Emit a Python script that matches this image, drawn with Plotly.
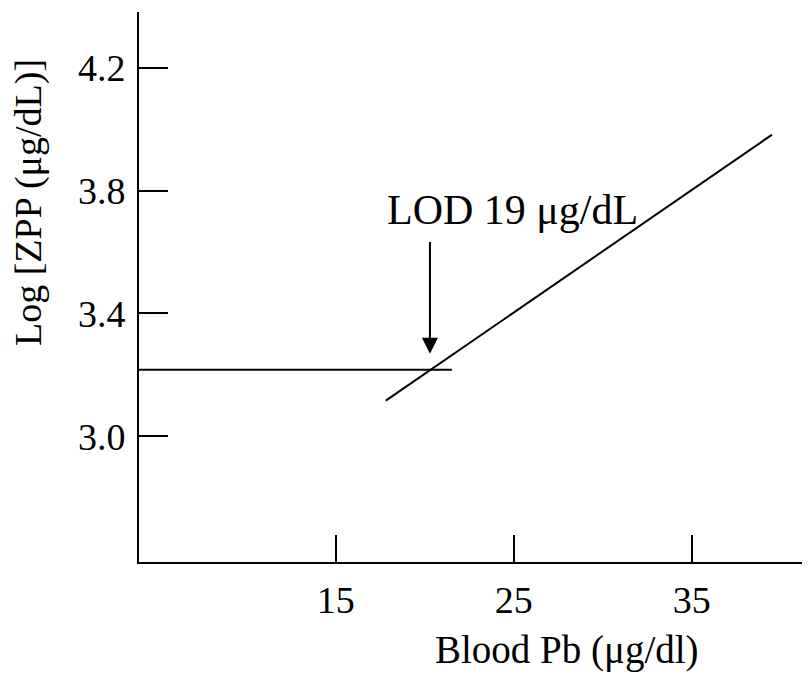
import plotly.graph_objects as go

# Data
flat_x = [3.94, 21.52]
flat_y = [3.217, 3.217]
slope_x = [17.81, 39.52]
slope_y = [3.116, 3.982]

lod_label = "LOD 19 \u03bcg/dL"
lod_arrow_x = 20.29
lod_arrow_tip_y = 3.269
lod_arrow_tail_y = 3.637
lod_text_x = 24.95
lod_text_y = 3.735

x_ticks = [15, 25, 35]
y_ticks = [3.0, 3.4, 3.8, 4.2]
x_range = [3.94, 41.65]
y_range = [2.591, 4.381]

FONT = "Liberation Serif"
# the page body adds an 8px offset, so the figure is sized to fit the window
OFF = 8
W, H = 810 - OFF, 674 - OFF
L, R, T, B = 139 - OFF, 0, 12 - OFF, 112
PW, PH = W - L - R, H - T - B

# positions in window pixels, converted to paper coords
def px_x(wx):
    return (wx - OFF - L) / PW

def px_y(wy):
    return (T + PH - (wy - OFF)) / PH

fig = go.Figure()
fig.add_trace(go.Scatter(x=flat_x, y=flat_y, mode="lines",
                         line=dict(color="black", width=2), showlegend=False, hoverinfo="skip"))
fig.add_trace(go.Scatter(x=slope_x, y=slope_y, mode="lines",
                         line=dict(color="black", width=2), showlegend=False, hoverinfo="skip"))

fig.add_annotation(x=lod_arrow_x, y=lod_arrow_tip_y, ax=lod_arrow_x, ay=lod_arrow_tail_y,
                   xref="x", yref="y", axref="x", ayref="y", text="",
                   showarrow=True, arrowhead=2, arrowsize=1.6, arrowwidth=2, arrowcolor="black")
fig.add_annotation(x=lod_text_x, y=lod_text_y, xref="x", yref="y", text=lod_label,
                   showarrow=False, font=dict(family=FONT, size=42, color="black"))

fig.add_annotation(x=px_x(28), y=px_y(203), xref="paper", yref="paper",
                   xanchor="center", yanchor="middle",
                   text="Log [ZPP (\u03bcg/dL)]", textangle=-90, showarrow=False,
                   font=dict(family=FONT, size=38, color="black"))
fig.add_annotation(x=px_x(566.7), y=px_y(673), xref="paper", yref="paper",
                   xanchor="center", yanchor="bottom", borderpad=0,
                   text="Blood Pb (\u03bcg/dl)", showarrow=False,
                   font=dict(family=FONT, size=39, color="black"))

fig.update_layout(
    width=W, height=H,
    margin=dict(l=L, r=R, t=T, b=B, autoexpand=False),
    paper_bgcolor="white", plot_bgcolor="white",
    font=dict(family=FONT, size=38, color="black"),
    xaxis=dict(range=x_range, tickvals=x_ticks, ticktext=[str(v) for v in x_ticks],
               ticks="inside", ticklen=27, tickwidth=2, tickcolor="black", automargin=False,
               showline=True, linecolor="black", linewidth=2, showgrid=False, zeroline=False,
               ticklabelstandoff=3, tickfont=dict(family=FONT, size=38)),
    yaxis=dict(range=y_range, tickvals=y_ticks, ticktext=[f"{v:.1f}" for v in y_ticks],
               ticks="inside", ticklen=29, tickwidth=2, tickcolor="black", automargin=False,
               showline=True, linecolor="black", linewidth=2, showgrid=False, zeroline=False,
               ticklabelstandoff=4, tickfont=dict(family=FONT, size=38)),
)

fig.write_html("out.html")
